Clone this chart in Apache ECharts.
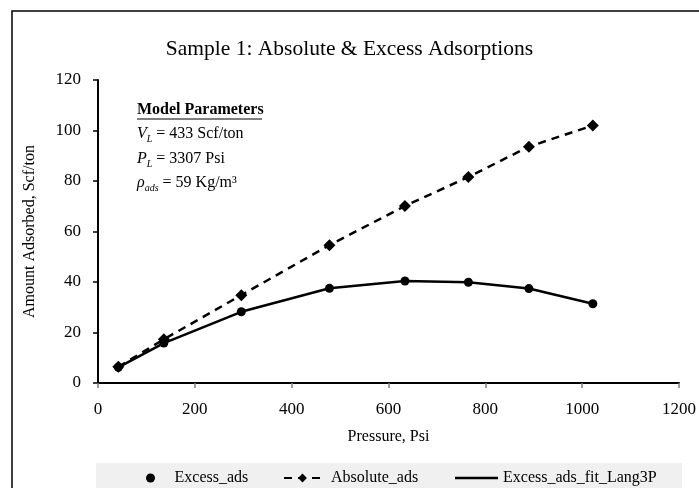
<!DOCTYPE html>
<html>
<head>
<meta charset="utf-8">
<script src="https://cdn.jsdelivr.net/npm/echarts@6/dist/echarts.min.js"></script>
<style>html,body{margin:0;padding:0;background:#fff}#c{width:699px;height:488px}</style>
</head>
<body>
<div id="c"></div>
<script>
var FONT = '"Liberation Serif", "Times New Roman", serif';
var pressure = [42, 136, 296, 478, 634, 765, 890, 1022];
var excessAds = [6.2, 15.8, 28.2, 37.5, 40.4, 39.9, 37.4, 31.4];
var absoluteAds = [6.4, 17.3, 34.8, 54.6, 70.1, 81.6, 93.6, 102.0];
var excessFit = [6.2, 15.8, 28.2, 37.5, 40.4, 39.9, 37.4, 31.4];
var xTicks = [0, 200, 400, 600, 800, 1000, 1200];
var yTicks = [0, 20, 40, 60, 80, 100, 120];

function pairs(xs, ys) { return xs.map(function (x, i) { return [x, ys[i]]; }); }

var chart = echarts.init(document.getElementById('c'), null, {renderer: 'canvas'});
var labelStyle = {fontFamily: FONT, fontSize: 17, color: '#000'};
chart.setOption({
  animation: false,
  backgroundColor: '#fff',
  title: {
    text: 'Sample 1: Absolute & Excess Adsorptions',
    left: 'center', top: 33,
    textStyle: {fontFamily: FONT, fontSize: 21.5, fontWeight: 'normal', color: '#000'}
  },
  grid: {left: 98, right: 19, top: 80, bottom: 105},
  xAxis: {
    type: 'value', min: xTicks[0], max: xTicks[xTicks.length - 1], interval: 200,
    name: 'Pressure, Psi', nameLocation: 'middle', nameGap: 46,
    nameTextStyle: {fontFamily: FONT, fontSize: 16, color: '#000'},
    axisLine: {show: true, lineStyle: {color: '#000', width: 2}},
    axisTick: {show: true, length: 5, lineStyle: {color: '#808080', width: 1.5}},
    axisLabel: Object.assign({margin: 18, formatter: function (v) { return String(v); }}, labelStyle),
    splitLine: {show: false}
  },
  yAxis: {
    type: 'value', min: yTicks[0], max: yTicks[yTicks.length - 1], interval: 20,
    name: 'Amount Adsorbed, Scf/ton', nameLocation: 'middle', nameGap: 60,
    nameTextStyle: {fontFamily: FONT, fontSize: 16, color: '#000'},
    axisLine: {show: true, lineStyle: {color: '#000', width: 2}},
    axisTick: {show: true, length: 5, lineStyle: {color: '#000', width: 1.5}},
    axisLabel: Object.assign({margin: 17, formatter: function (v) { return String(v); }}, labelStyle),
    splitLine: {show: false}
  },
  legend: [
    {data: ['Excess_ads'], left: 141, top: 465, itemWidth: 14, itemHeight: 9,
     textStyle: {fontFamily: FONT, fontSize: 16, color: '#000', padding: [0, 0, 0, 12]}},
    {data: ['Absolute_ads'], left: 278, top: 465, itemWidth: 37, itemHeight: 11,
     textStyle: {fontFamily: FONT, fontSize: 16, color: '#000', padding: [0, 0, 0, 5]}},
    {data: [{name: 'Excess_ads_fit_Lang3P', icon: 'rect'}], left: 450, top: 465, itemWidth: 43, itemHeight: 2.5,
     textStyle: {fontFamily: FONT, fontSize: 16, color: '#000'}}
  ],
  graphic: [
    {type: 'rect', z: -10, silent: true, shape: {x: 12, y: 11, width: 900, height: 700},
     style: {fill: 'none', stroke: '#000', lineWidth: 1.5}},
    {type: 'rect', z: -9, silent: true, shape: {x: 96, y: 463, width: 586, height: 40},
     style: {fill: '#f0f0f0'}},
    {type: 'text', x: 137, y: 102, style: {text: 'Model Parameters', font: 'bold 16px ' + FONT, fill: '#000', verticalAlign: 'top'}},
    {type: 'line', shape: {x1: 137, y1: 119, x2: 262, y2: 119}, style: {stroke: '#000', lineWidth: 1.2}},
    {type: 'text', x: 137, y: 124, style: {
      text: '{i|V}{s|L}{n| = 433 Scf/ton}', verticalAlign: 'top',
      rich: {
        i: {font: 'italic 16px ' + FONT, fill: '#000', lineHeight: 20},
        s: {font: 'italic 10px ' + FONT, fill: '#000', lineHeight: 9, verticalAlign: 'bottom'},
        n: {font: '16px ' + FONT, fill: '#000', lineHeight: 20}
      }}},
    {type: 'text', x: 137, y: 149, style: {
      text: '{i|P}{s|L}{n| = 3307 Psi}', verticalAlign: 'top',
      rich: {
        i: {font: 'italic 16px ' + FONT, fill: '#000', lineHeight: 20},
        s: {font: 'italic 10px ' + FONT, fill: '#000', lineHeight: 9, verticalAlign: 'bottom'},
        n: {font: '16px ' + FONT, fill: '#000', lineHeight: 20}
      }}},
    {type: 'text', x: 137, y: 173, style: {
      text: '{i|ρ}{s|ads}{n| = 59 Kg/m³}', verticalAlign: 'top',
      rich: {
        i: {font: 'italic 16px ' + FONT, fill: '#000', lineHeight: 20},
        s: {font: 'italic 10px ' + FONT, fill: '#000', lineHeight: 9, verticalAlign: 'bottom'},
        n: {font: '16px ' + FONT, fill: '#000', lineHeight: 20}
      }}}
  ],
  series: [
    {name: 'Excess_ads', type: 'scatter', data: pairs(pressure, excessAds), symbol: 'circle', symbolSize: 9,
     itemStyle: {color: '#000', opacity: 1}, z: 5},
    {name: 'Absolute_ads', type: 'line', data: pairs(pressure, absoluteAds), symbol: 'diamond', symbolSize: 12,
     showSymbol: true, itemStyle: {color: '#000'},
     lineStyle: {color: '#000', width: 2.5, type: [8, 6]}, z: 4},
    {name: 'Excess_ads_fit_Lang3P', type: 'line', data: pairs(pressure, excessFit), symbol: 'none',
     itemStyle: {color: '#000'}, lineStyle: {color: '#000', width: 2.5}, z: 3}
  ]
});
</script>
</body>
</html>
